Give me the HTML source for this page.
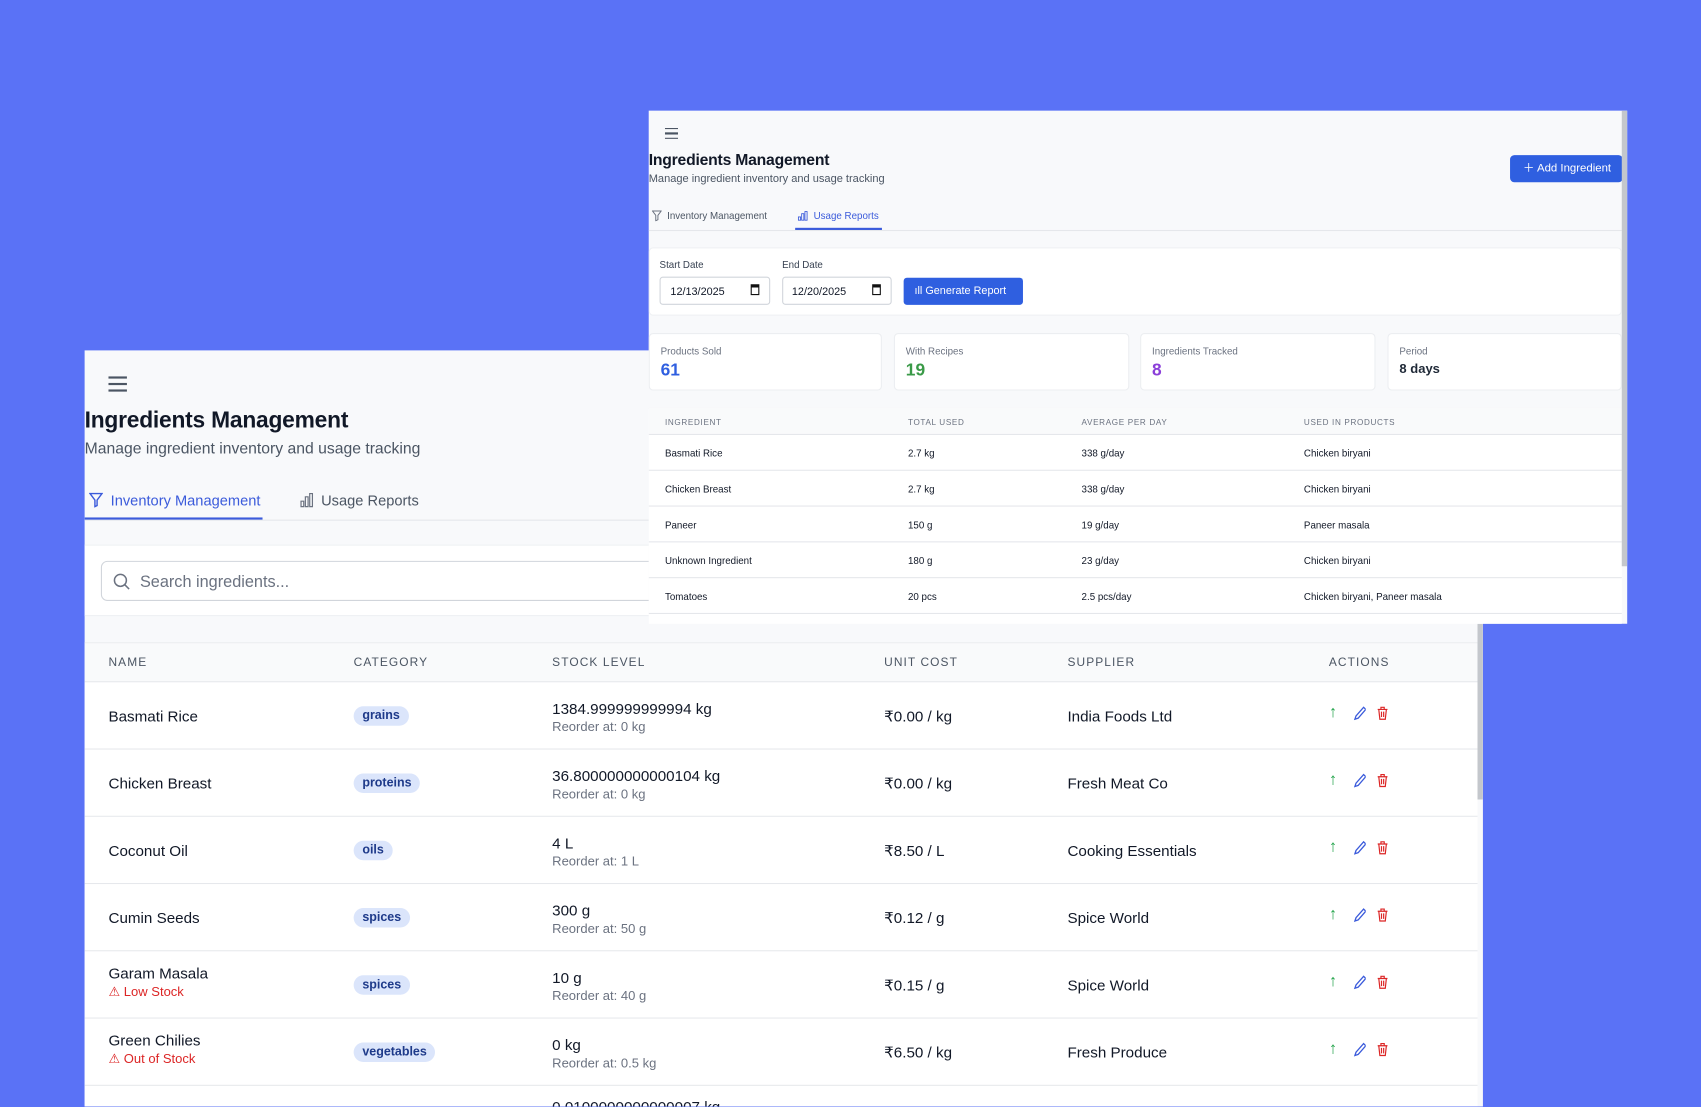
<!DOCTYPE html>
<html><head><meta charset="utf-8"><style>
*{box-sizing:border-box;margin:0;padding:0}
body{width:1701px;height:1106px;overflow:hidden;background:#5a72f6;font-family:"Liberation Sans",sans-serif;color:#111827}
#s{position:absolute;left:0;top:0;width:1568px;height:1020px;transform:scale(1.0848);transform-origin:0 0}
.a{position:absolute;white-space:nowrap}
.panel{position:absolute;background:#f8f9fb;overflow:hidden}
.burger{position:absolute}
.burger i{display:block;background:#4b5563;margin-bottom:4px}
.badge{position:absolute;background:#dbe5fb;color:#1e3a8a;font-size:11.5px;font-weight:bold;padding:3px 8px;border-radius:10px}
.up{color:#22a34a}.ed{color:#3b5bdb}.del{color:#dc2626}
</style></head><body><div id="s">

<div class="panel" style="left:78px;top:323px;width:1289px;height:697px">
 <div class="burger" style="left:22px;top:24px"><i style="width:17px;height:2px"></i><i style="width:17px;height:2px"></i><i style="width:17px;height:2px"></i></div>
 <div class="a" style="left:0;top:53px;font-size:21px;font-weight:bold;letter-spacing:-0.2px">Ingredients Management</div>
 <div class="a" style="left:0;top:83px;font-size:14.5px;color:#4b5563">Manage ingredient inventory and usage tracking</div>
 <div class="a" style="left:0;top:156px;width:1289px;height:1px;background:#e5e7eb"></div>
 <svg class="a" style="left:4px;top:131px" width="13" height="14" viewBox="0 0 13 14"><path d="M1 1h11L7.5 7v5l-2 1V7z" fill="none" stroke="#3b5bdb" stroke-width="1.3"/></svg>
 <div class="a" style="left:24px;top:131px;font-size:13.5px;color:#3b5bdb">Inventory Management</div>
 <div class="a" style="left:0;top:154px;width:164px;height:2px;background:#3b5bdb"></div>
 <svg class="a" style="left:198px;top:131px" width="13" height="14"><path d="M1.5 13V8h2.5v5zM5.5 13V4H8v9zM9.5 13V1H12v12z" fill="none" stroke="#6b7280" stroke-width="1.1"/></svg>
 <div class="a" style="left:218px;top:131px;font-size:13.5px;color:#4b5563">Usage Reports</div>
 <div class="a" style="left:0;top:179px;width:1289px;height:66px;background:#fff;border-top:1px solid #eef0f3;border-bottom:1px solid #eef0f3"></div>
 <div class="a" style="left:15px;top:194px;width:600px;height:37px;border:1px solid #d1d5db;border-radius:6px;background:#fff"></div>
 <svg class="a" style="left:26px;top:205px" width="16" height="16"><circle cx="7" cy="7" r="5.5" fill="none" stroke="#6b7280" stroke-width="1.4"/><path d="M11 11l4 4" stroke="#6b7280" stroke-width="1.4"/></svg>
 <div class="a" style="left:51px;top:205px;font-size:15px;color:#6b7280">Search ingredients...</div>
 <div class="a" style="left:0;top:269px;width:1284px;height:37px;background:#f9fafb;border-top:1px solid #eceef1;border-bottom:1px solid #e5e7eb"></div>
 <div class="a" style="top:282px;left:22px;font-size:11px;letter-spacing:1px;color:#4b5563">NAME</div>
 <div class="a" style="top:282px;left:248px;font-size:11px;letter-spacing:1px;color:#4b5563">CATEGORY</div>
 <div class="a" style="top:282px;left:431px;font-size:11px;letter-spacing:1px;color:#4b5563">STOCK LEVEL</div>
 <div class="a" style="top:282px;left:737px;font-size:11px;letter-spacing:1px;color:#4b5563">UNIT COST</div>
 <div class="a" style="top:282px;left:906px;font-size:11px;letter-spacing:1px;color:#4b5563">SUPPLIER</div>
 <div class="a" style="top:282px;left:1147px;font-size:11px;letter-spacing:1px;color:#4b5563">ACTIONS</div>
 <div class="a" style="left:1284px;top:252px;width:5px;height:162px;background:#c4c7cc"></div>
 <div id="rows"></div>
</div>

<div class="panel" style="left:598px;top:102px;width:902px;height:473px">
 <div class="burger" style="left:15px;top:16px"><i style="width:12px;height:1.3px;margin-bottom:3px"></i><i style="width:12px;height:1.3px;margin-bottom:3px"></i><i style="width:12px;height:1.3px"></i></div>
 <div class="a" style="left:0;top:38px;font-size:14.5px;font-weight:bold;letter-spacing:-0.2px">Ingredients Management</div>
 <div class="a" style="left:0;top:58px;font-size:10.2px;color:#4b5563">Manage ingredient inventory and usage tracking</div>
 <div class="a" style="left:794px;top:41px;width:104px;height:25px;background:#2f5fe0;border-radius:4px;color:#fff;font-size:10.5px;line-height:25px;padding-left:12px">＋ Add Ingredient</div>
 <div class="a" style="left:0;top:110px;width:897px;height:1px;background:#e5e7eb"></div>
 <svg class="a" style="left:3px;top:92px" width="9" height="10"><path d="M.5 .5h8L5.5 4.5v4l-2 1v-5z" fill="none" stroke="#6b7280" stroke-width=".9"/></svg>
 <div class="a" style="left:17px;top:92px;font-size:9px;color:#4b5563">Inventory Management</div>
 <svg class="a" style="left:137px;top:92px" width="10" height="10"><path d="M1 9V6h2v3zM4 9V3h2v6zM7 9V1h2v8z" fill="none" stroke="#3b5bdb" stroke-width=".8"/></svg>
 <div class="a" style="left:152px;top:92px;font-size:9px;color:#3b5bdb">Usage Reports</div>
 <div class="a" style="left:135px;top:108px;width:80px;height:2px;background:#3b5bdb"></div>
 <div class="a" style="left:0;top:126px;width:897px;height:63px;background:#fff;border:1px solid #eef0f3;border-radius:4px"></div>
 <div class="a" style="left:10px;top:137px;font-size:9px;color:#374151">Start Date</div>
 <div class="a" style="left:123px;top:137px;font-size:9px;color:#374151">End Date</div>
 <div class="a" style="left:10px;top:153px;width:102px;height:26px;border:1px solid #d1d5db;border-radius:3px;font-size:10px;padding:8px 0 0 9px">12/13/2025<span style="position:absolute;right:9px;top:6px;width:8px;height:10px;border:1.4px solid #111;border-top-width:3px"></span></div>
 <div class="a" style="left:123px;top:153px;width:101px;height:26px;border:1px solid #d1d5db;border-radius:3px;font-size:10px;padding:8px 0 0 8px">12/20/2025<span style="position:absolute;right:9px;top:6px;width:8px;height:10px;border:1.4px solid #111;border-top-width:3px"></span></div>
 <div class="a" style="left:235px;top:154px;width:110px;height:25px;background:#2f5fe0;border-radius:3px;color:#fff;font-size:10px;line-height:26px;padding-left:10px">ıll Generate Report</div>
 <div class="a" style="left:0;top:205px;width:215px;height:53px;background:#fff;border:1px solid #eceef1;border-radius:4px"><div class="a" style="left:10px;top:11px;font-size:9px;color:#6b7280">Products Sold</div><div class="a" style="left:10px;top:25px;font-size:16px;font-weight:bold;color:#2f5fe0">61</div></div>
 <div class="a" style="left:226px;top:205px;width:217px;height:53px;background:#fff;border:1px solid #eceef1;border-radius:4px"><div class="a" style="left:10px;top:11px;font-size:9px;color:#6b7280">With Recipes</div><div class="a" style="left:10px;top:25px;font-size:16px;font-weight:bold;color:#3a9a48">19</div></div>
 <div class="a" style="left:453px;top:205px;width:217px;height:53px;background:#fff;border:1px solid #eceef1;border-radius:4px"><div class="a" style="left:10px;top:11px;font-size:9px;color:#6b7280">Ingredients Tracked</div><div class="a" style="left:10px;top:25px;font-size:16px;font-weight:bold;color:#8b3fd9">8</div></div>
 <div class="a" style="left:681px;top:205px;width:216px;height:53px;background:#fff;border:1px solid #eceef1;border-radius:4px"><div class="a" style="left:10px;top:11px;font-size:9px;color:#6b7280">Period</div><div class="a" style="left:10px;top:25px;font-size:12px;font-weight:bold;color:#1f2937">8 days</div></div>
 <div class="a" style="left:0;top:274px;width:897px;height:200px;background:#fff;border-top:1px solid #eceef1"></div>
 <div class="a" style="left:0;top:274px;width:897px;height:25px;background:#f9fafb;border-bottom:1px solid #e5e7eb"></div>
 <div class="a" style="left:15px;top:283px;font-size:7.5px;letter-spacing:.6px;color:#6b7280">INGREDIENT</div>
 <div class="a" style="left:239px;top:283px;font-size:7.5px;letter-spacing:.6px;color:#6b7280">TOTAL USED</div>
 <div class="a" style="left:399px;top:283px;font-size:7.5px;letter-spacing:.6px;color:#6b7280">AVERAGE PER DAY</div>
 <div class="a" style="left:604px;top:283px;font-size:7.5px;letter-spacing:.6px;color:#6b7280">USED IN PRODUCTS</div>
 <div id="frows"></div>
 <div class="a" style="left:897px;top:0;width:5px;height:420px;background:#c4c7cc"></div>
</div>
</div>
<script>
var r=[["Basmati Rice","grains","1384.999999999994 kg","Reorder at: 0 kg","₹0.00 / kg","India Foods Ltd",""],
["Chicken Breast","proteins","36.800000000000104 kg","Reorder at: 0 kg","₹0.00 / kg","Fresh Meat Co",""],
["Coconut Oil","oils","4 L","Reorder at: 1 L","₹8.50 / L","Cooking Essentials",""],
["Cumin Seeds","spices","300 g","Reorder at: 50 g","₹0.12 / g","Spice World",""],
["Garam Masala","spices","10 g","Reorder at: 40 g","₹0.15 / g","Spice World","Low Stock"],
["Green Chilies","vegetables","0 kg","Reorder at: 0.5 kg","₹6.50 / kg","Fresh Produce","Out of Stock"],
["","","0.0100000000000007 kg","","","",""]];
var h="";
r.forEach(function(d,i){var t=306+i*62,c=t+31;
h+='<div class="a" style="left:0;top:'+t+'px;width:1284px;height:62px;background:#fff;border-bottom:1px solid #e5e7eb"></div>';
if(!d[0]){h+='<div class="a" style="left:431px;top:'+(c-20)+'px;font-size:14px">'+d[2]+'</div>';return;}
var ny=d[6]?c-19:c-8;
h+='<div class="a" style="left:22px;top:'+ny+'px;font-size:14px">'+d[0]+'</div>';
if(d[6])h+='<div class="a" style="left:22px;top:'+(c-1)+'px;font-size:12px;color:#dc2626">⚠ '+d[6]+'</div>';
h+='<div class="badge" style="left:248px;top:'+(c-9)+'px">'+d[1]+'</div>';
h+='<div class="a" style="left:431px;top:'+(c-15)+'px;font-size:14px">'+d[2]+'</div>';
h+='<div class="a" style="left:431px;top:'+(c+3)+'px;font-size:12px;color:#6b7280">'+d[3]+'</div>';
h+='<div class="a" style="left:737px;top:'+(c-8)+'px;font-size:14px">'+d[4]+'</div>';
h+='<div class="a" style="left:906px;top:'+(c-8)+'px;font-size:14px">'+d[5]+'</div>';
h+='<div class="a up" style="left:1147px;top:'+(c-12)+'px;font-size:15px;font-weight:bold">↑</div><svg class="a" style="left:1169px;top:'+(c-9)+'px" width="12" height="13"><path d="M2 12l1-3 7-8 2 2-7 8z" fill="none" stroke="#3b5bdb" stroke-width="1.2"/></svg><svg class="a" style="left:1191px;top:'+(c-9)+'px" width="11" height="13"><path d="M1 3h9M4 3V1h3v2M2 3l1 9h5l1-9M4.5 5v5M6.5 5v5" fill="none" stroke="#dc2626" stroke-width="1.1"/></svg>';
});
document.getElementById("rows").innerHTML=h;
var f=[["Basmati Rice","2.7 kg","338 g/day","Chicken biryani"],["Chicken Breast","2.7 kg","338 g/day","Chicken biryani"],["Paneer","150 g","19 g/day","Paneer masala"],["Unknown Ingredient","180 g","23 g/day","Chicken biryani"],["Tomatoes","20 pcs","2.5 pcs/day","Chicken biryani, Paneer masala"]];
h="";
f.forEach(function(d,i){var t=299+i*33;
h+='<div class="a" style="left:0;top:'+t+'px;width:897px;height:33px;border-bottom:1px solid #e5e7eb"></div>';
[15,239,399,604].forEach(function(x,j){h+='<div class="a" style="left:'+x+'px;top:'+(t+12)+'px;font-size:9px;color:#111827">'+d[j]+'</div>';});
});
document.getElementById("frows").innerHTML=h;
</script>
</body></html>
